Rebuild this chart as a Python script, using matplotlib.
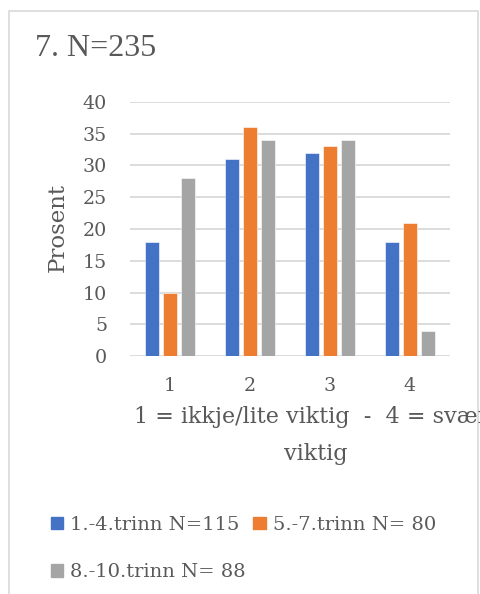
import matplotlib
matplotlib.use("Agg")
import matplotlib.pyplot as plt
import numpy as np
from matplotlib.patches import Rectangle, Patch

categories = ["1", "2", "3", "4"]
series_names = ["1.-4.trinn N=115", "5.-7.trinn N= 80", "8.-10.trinn N= 88"]
s1 = [18, 31, 32, 18]
s2 = [10, 36, 33, 21]
s3 = [28, 34, 34, 4]
colors = ["#4472C4", "#ED7D31", "#A5A5A5"]
yticks = [0, 5, 10, 15, 20, 25, 30, 35, 40]

plt.rcParams['font.family'] = ['DejaVu Serif']
txt = "#595959"
H = 594.0
W = 480.0

fig = plt.figure(figsize=(4.8, 5.94), dpi=100)
fig.patches.append(Rectangle((9/W, -0.1), (478-9)/W, 1.1 - 11/H,
                             transform=fig.transFigure, fill=False,
                             edgecolor="#D9D9D9", linewidth=1.2))

ax = fig.add_axes([130/W, 1-356/H, 320/W, (356-102)/H])
x = np.arange(len(categories))
w = 0.175
step = 0.22
for i, (vals, c) in enumerate(zip([s1, s2, s3], colors)):
    ax.bar(x + (i-1)*step, vals, width=w, color=c, zorder=3,
           edgecolor="white", linewidth=0.4)

ax.set_xlim(-0.5, 3.5)
ax.set_ylim(0, 40)
ax.set_yticks(yticks)
ax.set_xticks(x)
ax.set_xticklabels(categories)
ax.yaxis.grid(True, color="#D9D9D9", linewidth=1.3, zorder=0)
for s in ax.spines.values():
    s.set_visible(False)
ax.tick_params(length=0, labelsize=13.7, colors=txt)
ax.tick_params(axis='y', pad=16.5)
ax.tick_params(axis='x', pad=15)

fig.text(35/W, 1-48/H, "7. N=235", fontsize=23, color=txt, va='center',
         ha='left', family=['Liberation Serif', 'DejaVu Serif'])
fig.text(58/W, 1-228/H, "Prosent", fontsize=16.5, color=txt, rotation=90,
         va='center', ha='center')
fig.text(316/W, 1-423/H, "1 = ikkje/lite viktig  -  4 = svært",
         fontsize=16, color=txt, ha='center', va='baseline')
fig.text(316/W, 1-460/H, "viktig",
         fontsize=16, color=txt, ha='center', va='baseline')

handles = [Patch(color=c) for c in colors]
order = [0, 2, 1]
fig.legend([handles[i] for i in order], [series_names[i] for i in order],
           ncol=2, loc='upper left', bbox_to_anchor=(51/W, 1-516/H),
           frameon=False, fontsize=14, labelcolor=txt,
           handlelength=0.62, handleheight=0.62, handletextpad=0.36,
           columnspacing=0.4, labelspacing=1.5, borderaxespad=0, borderpad=0)

fig.savefig("out.png", dpi=100)
